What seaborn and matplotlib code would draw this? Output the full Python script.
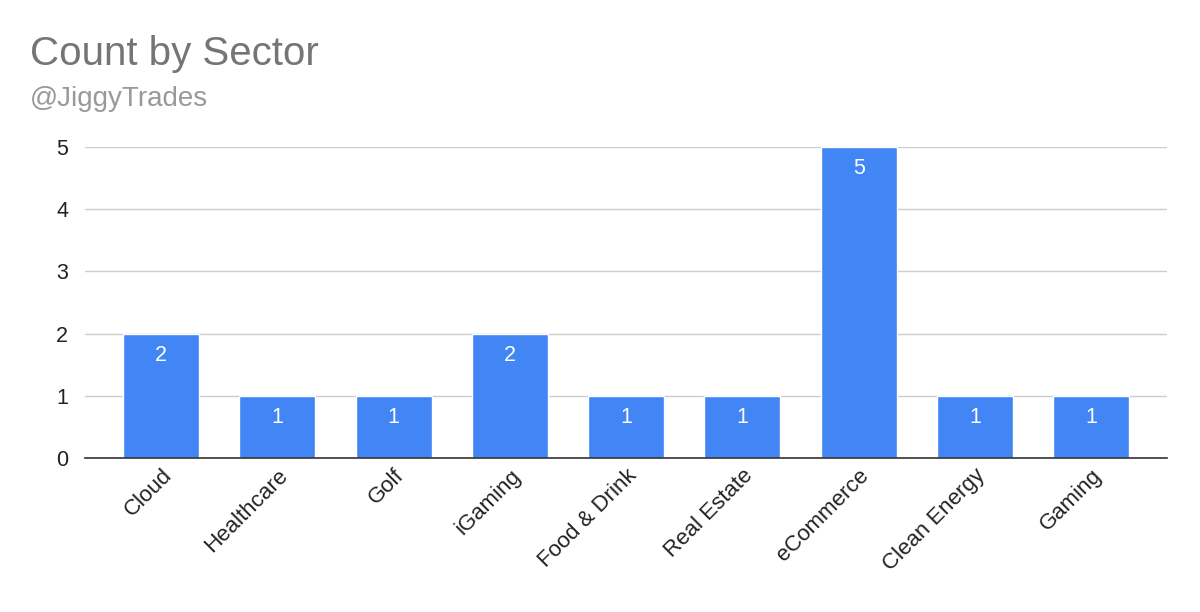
import matplotlib
matplotlib.use("Agg")
import matplotlib.pyplot as plt
import seaborn as sns
import pandas as pd

# data
sectors = ["Cloud", "Healthcare", "Golf", "iGaming", "Food & Drink",
           "Real Estate", "eCommerce", "Clean Energy", "Gaming"]
counts = [2, 1, 1, 2, 1, 1, 5, 1, 1]

df = pd.DataFrame({"Sector": sectors, "Count": counts})

sns.set_theme(style="white")
plt.rcParams["font.family"] = ["Liberation Sans", "DejaVu Sans"]

fig = plt.figure(figsize=(12, 6.12), dpi=100)
ax = fig.add_axes([0.0708, 0.2516, 0.902, 0.5082])

sns.barplot(data=df, x="Sector", y="Count", color="#4285F4", width=0.655,
            saturation=1, ax=ax)

ax.set_ylim(0, 5)
ax.set_xlim(-0.655, 8.655)
ax.set_yticks([0, 1, 2, 3, 4, 5])
ax.yaxis.grid(True, color="#cccccc", linewidth=1)
ax.set_axisbelow(True)
for s in ["top", "right", "left"]:
    ax.spines[s].set_visible(False)
ax.spines["bottom"].set_color("#333333")
ax.spines["bottom"].set_linewidth(1.2)
ax.tick_params(axis="y", length=0, labelsize=15.5, colors="#222222", pad=12)
ax.tick_params(axis="x", length=0, labelsize=16, colors="#222222", pad=5)
plt.setp(ax.get_xticklabels(), rotation=45, ha="right", rotation_mode="anchor")
ax.set_xlabel("")
ax.set_ylabel("")

# value labels inside the bars
for container in ax.containers:
    ax.bar_label(container, labels=[str(c) for c in counts], label_type="edge",
                 padding=-23, color="white", fontsize=15.5)

fig.text(0.025, 0.894, "Count by Sector", fontsize=29, color="#757575",
         va="baseline")
fig.text(0.025, 0.827, "@JiggyTrades", fontsize=20, color="#999999",
         va="baseline")

fig.savefig("out.png", dpi=100)
